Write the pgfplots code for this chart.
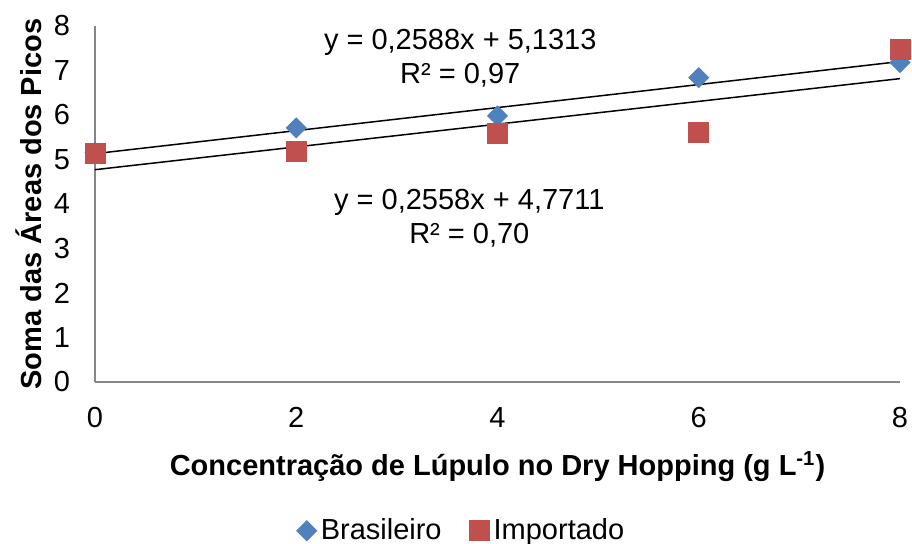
\documentclass[border=0pt]{standalone}
\usepackage{fontspec}
\setmainfont{Liberation Sans}
\usepackage{pgfplots}
\pgfplotsset{compat=1.18}
\definecolor{brablue}{HTML}{4F81BD}
\definecolor{impred}{HTML}{C0504D}
\definecolor{axgrey}{HTML}{868686}
\newcommand{\chartfont}{\fontsize{14.5}{17}\selectfont}
\begin{document}
\begin{tikzpicture}
\path[use as bounding box] (-47.5pt,-81pt) rectangle (408.5pt,191pt);
\begin{axis}[
  at={(0pt,0pt)}, anchor=south west,
  scale only axis,
  width=402.5pt, height=178pt,
  xmin=0, xmax=8, ymin=0, ymax=8,
  xtick={0,2,4,6,8}, ytick={0,1,...,8},
  axis x line=bottom, axis y line=left,
  axis line style={axgrey, line width=0.75pt, -},
  major tick length=0pt,
  /pgf/number format/assume math mode=true,
  ticklabel style={font=\chartfont},
  xticklabel style={yshift=-9pt},
  yticklabel style={xshift=-9pt},
  xlabel={\textbf{Concentração de Lúpulo no Dry Hopping (g L\textsuperscript{-1})}},
  ylabel={\textbf{Soma das Áreas dos Picos}},
  label style={font=\chartfont},
  xlabel style={yshift=-5pt},
  ylabel style={yshift=-1pt},
  clip=false,
  legend columns=2,
  legend style={draw=none, fill=none, font=\chartfont,
    at={(0.4565,-0.418)}, anchor=center,
    /tikz/every even column/.append style={column sep=12pt}},
  legend cell align=left,
]
% measured values
\addplot[only marks, mark=square*, mark size=3.54pt, mark options={rotate=45, fill=brablue, draw=brablue}, color=brablue]
  coordinates {(0,5.16) (2,5.71) (4,5.98) (6,6.84) (8,7.18)};
\addlegendentry{Brasileiro}
\addplot[only marks, mark=square*, mark size=5pt, mark options={fill=impred, draw=impred}, color=impred]
  coordinates {(0,5.14) (2,5.18) (4,5.59) (6,5.60) (8,7.48)};
\addlegendentry{Importado}
% linear trend lines
\addplot[black, line width=0.75pt, forget plot] coordinates {(0,5.1313) (8,7.2017)};
\addplot[black, line width=0.75pt, forget plot] coordinates {(0,4.7711) (8,6.8175)};
\node[font=\chartfont, align=center] at (axis cs:3.63,7.27) {y = 0,2588x + 5,1313\\R² = 0,97};
\node[font=\chartfont, align=center] at (axis cs:3.72,3.69) {y = 0,2558x + 4,7711\\R² = 0,70};
\end{axis}
\end{tikzpicture}
\end{document}
